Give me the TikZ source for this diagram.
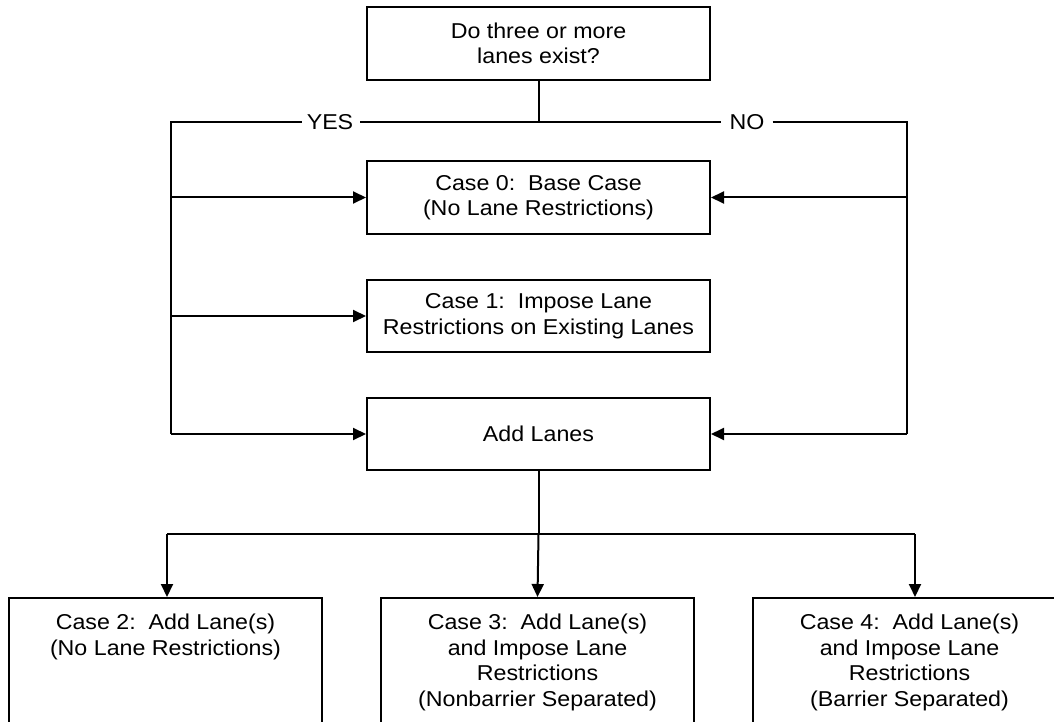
\documentclass[tikz,border=0pt]{standalone}
\usepackage{fontspec}
\setmainfont[FakeStretch=1.08]{Liberation Sans}
\usetikzlibrary{arrows.meta}
\begin{document}
\begin{tikzpicture}[x=1pt,y=-1pt,
  every node/.style={font=\fontsize{21.5}{25.5}\selectfont},
  box/.style={draw,line width=2pt,rectangle,inner sep=0pt,align=center,minimum width=343pt,minimum height=72pt},
  lowbox/.style={draw,line width=2pt,rectangle,inner sep=0pt,minimum width=313pt,minimum height=220pt,anchor=north},
  lowtext/.style={inner sep=0pt,align=center,anchor=north},
  conn/.style={line width=2pt},
  arr/.style={line width=2pt,-{Triangle[length=13pt,width=12pt]}},
  lbl/.style={inner sep=0pt}]
\useasboundingbox (0,0) rectangle (1054,722);
\clip (0,0) rectangle (1054,722);

\node[box,minimum height=73pt] (q) at (538.5,43.5) {Do three or more\\lanes exist?};
\node[box,minimum height=73pt] (c0) at (538.5,197.5) {Case 0:~~Base Case\\(No Lane Restrictions)};
\node[box] (c1) at (538.5,316) {Case 1:~~Impose Lane\\Restrictions on Existing Lanes};
\node[box] (add) at (538.5,434) {Add Lanes};

\node[lowbox] (c2) at (165.5,597) {};
\node[lowbox] (c3) at (537.5,597) {};
\node[lowbox] (c4) at (909.5,597) {};
\node[lowtext] (c2t) at ([yshift=-17pt]c2.north) {Case 2:~~Add Lane(s)\\(No Lane Restrictions)};
\node[lowtext] (c3t) at ([yshift=-17pt]c3.north) {Case 3:~~Add Lane(s)\\and Impose Lane\\Restrictions\\(Nonbarrier Separated)};
\node[lowtext] (c4t) at ([yshift=-17pt]c4.north) {Case 4:~~Add Lane(s)\\and Impose Lane\\Restrictions\\(Barrier Separated)};

\node[lbl] (yes) at (330,122) {YES};
\node[lbl] (no) at (747,122) {NO};

\coordinate (tm) at (538.5,122);
\coordinate (tl) at (171,122);
\coordinate (tr) at (907,122);
\coordinate (bl) at (171,434);
\coordinate (brr) at (907,434);
\coordinate (bm) at (538.5,534);
\coordinate (dl) at (167,534);
\coordinate (dr) at (915,534);

\draw[conn] (q.south) -- (tm);
\draw[conn] ([xshift=-5pt]yes.west) -- (tl) -- (bl);
\draw[conn] ([xshift=7pt]yes.east) -- ([xshift=-8pt]no.west);
\draw[conn] ([xshift=8pt]no.east) -- (tr) -- (brr);

\draw[arr] (tl |- c0.west) -- (c0.west);
\draw[arr] (tl |- c1.west) -- (c1.west);
\draw[arr] (bl) -- (add.west);
\draw[arr] (tr |- c0.east) -- (c0.east);
\draw[arr] (brr) -- (add.east);

\draw[conn] (add.south) -- (bm);
\draw[conn] (dl) -- (dr);
\draw[arr] (dl) -- (dl |- c2.north);
\draw[arr] (bm) -- (c3.north);
\draw[arr] (dr) -- (dr |- c4.north);
\end{tikzpicture}
\end{document}
